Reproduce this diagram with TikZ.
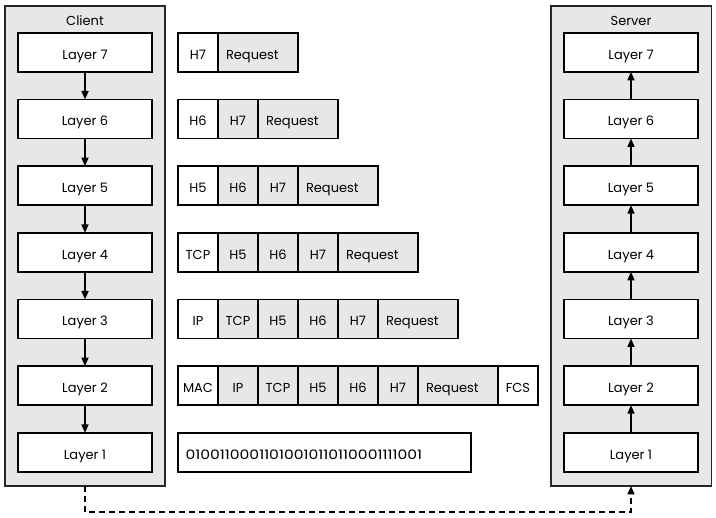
\documentclass[tikz,border=0pt]{standalone}
\usepackage{fontspec}
\setmainfont{Poppins}
\usetikzlibrary{arrows.meta}
\definecolor{panelgray}{HTML}{E6E7E8}
\begin{document}
\begin{tikzpicture}[x=1pt,y=-1pt,
  txt/.style={font=\fontsize{13}{15}\selectfont,text height=14pt,text depth=0pt},
  panel/.style={draw=black!85,fill=panelgray,line width=1.6pt},
  layerbox/.style={draw=black,fill=white,line width=1.8pt,minimum width=134pt,minimum height=39pt,inner sep=0pt,outer sep=0pt,txt},
  cellw/.style={draw=black,fill=white,line width=1.8pt,minimum height=39pt,inner sep=0pt,outer sep=0pt,txt},
  cellg/.style={cellw,fill=panelgray},
  wide/.style={text width=#1-16pt,align=left},
  lbl/.style={font=\fontsize{13}{15}\selectfont},
  flow/.style={line width=1.6pt,-{Triangle[length=8.5pt,width=7pt]}},
  wire/.style={line width=1.6pt,dash pattern=on 6pt off 4pt,-{Triangle[length=8.5pt,width=7pt]}}
]
\useasboundingbox (0,0) rectangle (716,518);
% panels
\draw[panel] (5,6) rectangle (165,486);
\draw[panel] (551,6) rectangle (711.5,486);
\node[lbl] (client) at (85,21) {Client};
\node[lbl] (server) at (631,21) {Server};
% layer boxes
\foreach \k in {1,...,7}{
  \pgfmathsetmacro{\yy}{52.3+(7-\k)*66.67}
  \node[layerbox] (c\k) at (85,\yy) {Layer \k};
  \node[layerbox] (s\k) at (631,\yy) {Layer \k};
}
\foreach \a/\b in {7/6,6/5,5/4,4/3,3/2,2/1}{
  \draw[flow] (c\a.south) -- (c\b.north);
  \draw[flow] (s\b.north) -- (s\a.south);
}
% row 7
\node[cellw,minimum width=40pt,anchor=west] (h7a) at (178,52.3) {H7};
\node[cellg,minimum width=80pt,anchor=west,wide=80pt] (rqa) at (h7a.east) {Request};
% row 6
\node[cellw,minimum width=40pt,anchor=west] (h6b) at (178,118.97) {H6};
\node[cellg,minimum width=40pt,anchor=west] (h7b) at (h6b.east) {H7};
\node[cellg,minimum width=80pt,anchor=west,wide=80pt] (rqb) at (h7b.east) {Request};
% row 5
\node[cellw,minimum width=40pt,anchor=west] (h5c) at (178,185.64) {H5};
\node[cellg,minimum width=40pt,anchor=west] (h6c) at (h5c.east) {H6};
\node[cellg,minimum width=40pt,anchor=west] (h7c) at (h6c.east) {H7};
\node[cellg,minimum width=80pt,anchor=west,wide=80pt] (rqc) at (h7c.east) {Request};
% row 4
\node[cellw,minimum width=40pt,anchor=west] (tcpd) at (178,252.31) {TCP};
\node[cellg,minimum width=40pt,anchor=west] (h5d) at (tcpd.east) {H5};
\node[cellg,minimum width=40pt,anchor=west] (h6d) at (h5d.east) {H6};
\node[cellg,minimum width=40pt,anchor=west] (h7d) at (h6d.east) {H7};
\node[cellg,minimum width=80pt,anchor=west,wide=80pt] (rqd) at (h7d.east) {Request};
% row 3
\node[cellw,minimum width=40pt,anchor=west] (ipe) at (178,318.98) {IP};
\node[cellg,minimum width=40pt,anchor=west] (tcpe) at (ipe.east) {TCP};
\node[cellg,minimum width=40pt,anchor=west] (h5e) at (tcpe.east) {H5};
\node[cellg,minimum width=40pt,anchor=west] (h6e) at (h5e.east) {H6};
\node[cellg,minimum width=40pt,anchor=west] (h7e) at (h6e.east) {H7};
\node[cellg,minimum width=80pt,anchor=west,wide=80pt] (rqe) at (h7e.east) {Request};
% row 2
\node[cellw,minimum width=40pt,anchor=west] (macf) at (178,385.65) {MAC};
\node[cellg,minimum width=40pt,anchor=west] (ipf) at (macf.east) {IP};
\node[cellg,minimum width=40pt,anchor=west] (tcpf) at (ipf.east) {TCP};
\node[cellg,minimum width=40pt,anchor=west] (h5f) at (tcpf.east) {H5};
\node[cellg,minimum width=40pt,anchor=west] (h6f) at (h5f.east) {H6};
\node[cellg,minimum width=40pt,anchor=west] (h7f) at (h6f.east) {H7};
\node[cellg,minimum width=80pt,anchor=west,wide=80pt] (rqf) at (h7f.east) {Request};
\node[cellw,minimum width=40pt,anchor=west] (fcsf) at (rqf.east) {FCS};
% row 1
\node[cellw,minimum width=293pt,anchor=west,text width=277pt,align=left] (bits) at (178,452.32) {\hspace*{-0.5pt}\scalebox{1.2}[1]{01001100011010010110110001111001}};
% wire
\coordinate (wa) at (85,486);
\coordinate (wb) at (85,512);
\coordinate (wc) at (631,512);
\coordinate (wd) at (631,486);
\draw[wire] (wa) -- (wb) -- (wc) -- (wd);
\end{tikzpicture}
\end{document}
